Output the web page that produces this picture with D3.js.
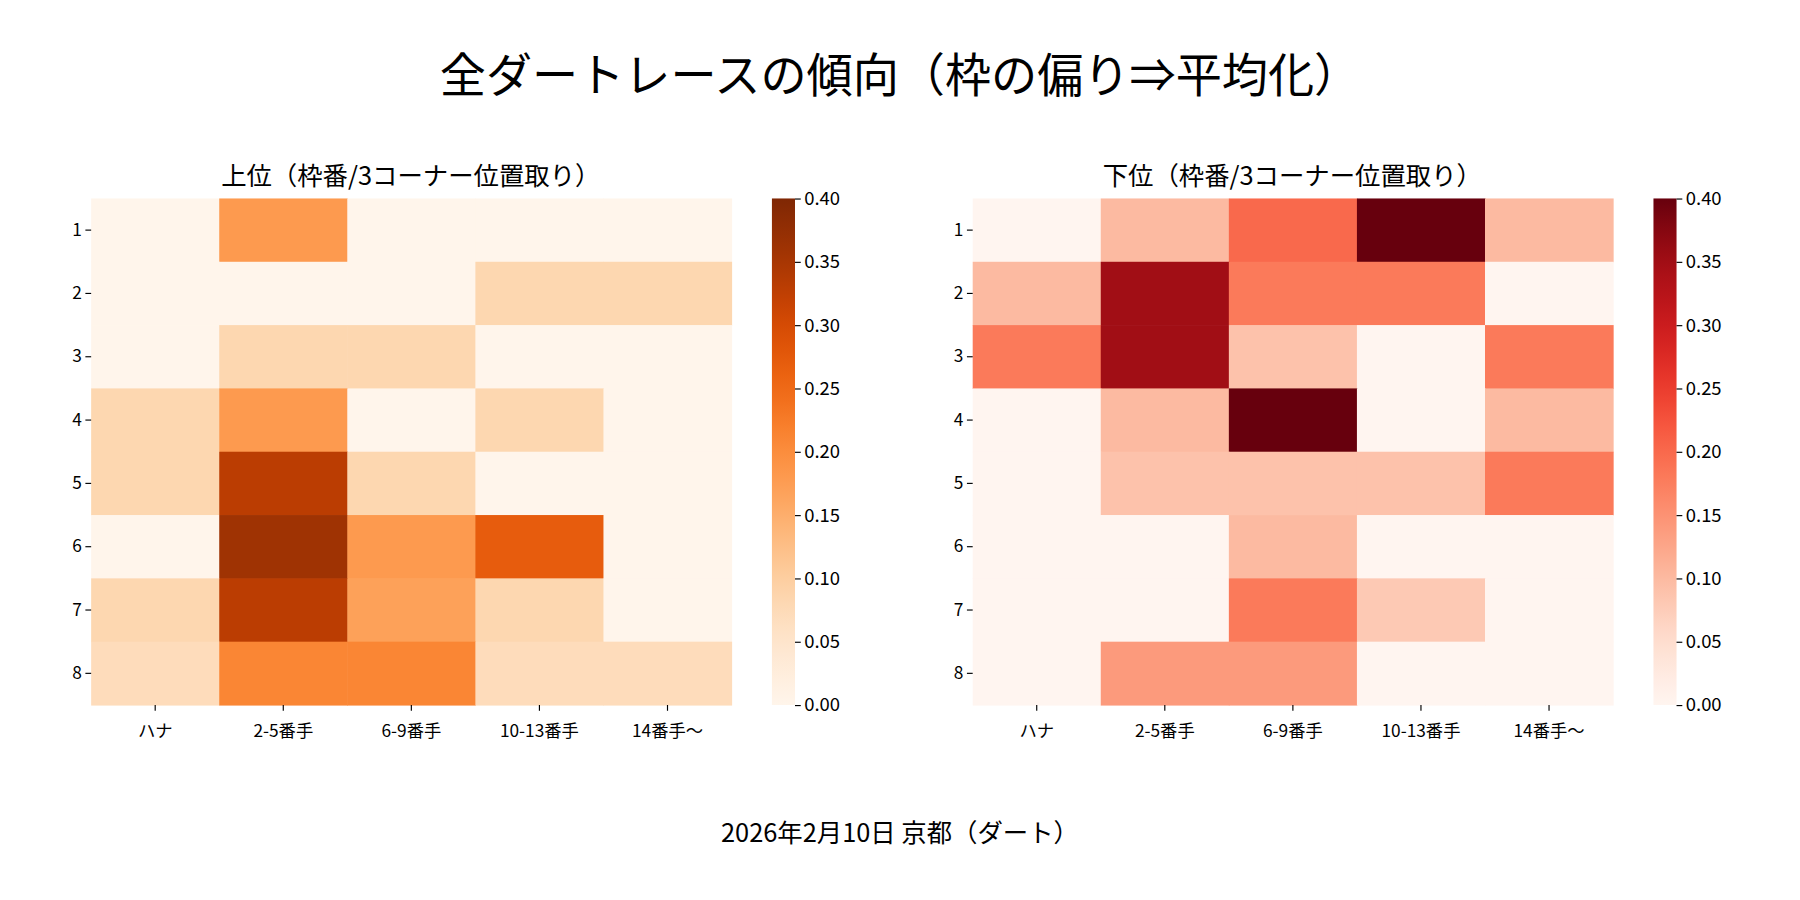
<!DOCTYPE html>
<html><head><meta charset="utf-8">
<script src="https://cdn.jsdelivr.net/npm/d3@7"></script>
<style>body{margin:0;background:#fff}text{font-family:"Noto Sans CJK JP","Noto Sans",sans-serif}</style>
</head><body>
<svg id="chart" width="1800" height="900" viewBox="0 0 1560 780"></svg>
<script>
// rows = 枠番, cols = 3コーナー位置取り
const rows = ["1","2","3","4","5","6","7","8"];
const cols = ["ハナ","2-5番手","6-9番手","10-13番手","14番手〜"];
const topVals = [
  [0, 0.18, 0, 0, 0],
  [0, 0, 0, 0.083, 0.083],
  [0, 0.083, 0.083, 0, 0],
  [0.083, 0.18, 0, 0.083, 0],
  [0.083, 0.33, 0.083, 0, 0],
  [0, 0.36, 0.18, 0.27, 0],
  [0.083, 0.33, 0.17, 0.083, 0],
  [0.071, 0.21, 0.21, 0.071, 0.071]
];
const bottomVals = [
  [0, 0.1, 0.2, 0.4, 0.1],
  [0.1, 0.35, 0.18, 0.18, 0],
  [0.18, 0.35, 0.09, 0, 0.18],
  [0, 0.1, 0.4, 0, 0.1],
  [0, 0.09, 0.09, 0.09, 0.18],
  [0, 0, 0.1, 0, 0],
  [0, 0, 0.18, 0.08, 0],
  [0, 0.14, 0.14, 0, 0]
];
const cbTicks = [0, 0.05, 0.1, 0.15, 0.2, 0.25, 0.3, 0.35, 0.4];

const svg = d3.select("#chart");
svg.append("text").attr("x", 780).attr("y", 80).attr("text-anchor", "middle")
  .attr("font-size", 40).text("全ダートレースの傾向（枠の偏り⇒平均化）");
svg.append("text").attr("x", 780).attr("y", 730).attr("text-anchor", "middle")
  .attr("font-size", 22).text("2026年2月10日 京都（ダート）");

function heat(x0, title, vals, interp) {
  const g = svg.append("g");
  const x = d3.scaleBand().domain(cols).range([x0, x0 + 555]);
  const y = d3.scaleBand().domain(rows).range([172, 611]);
  const color = d3.scaleSequential(interp).domain([0, 0.4]);
  g.append("text").attr("x", x0 + 277).attr("y", 160).attr("text-anchor", "middle")
    .attr("font-size", 22).text(title);
  vals.forEach((r, i) => r.forEach((v, j) => {
    g.append("rect").attr("x", x(cols[j])).attr("y", y(rows[i]))
      .attr("width", x.bandwidth() + 0.5).attr("height", y.bandwidth() + 0.5)
      .attr("fill", color(v));
  }));
  g.append("g").attr("transform", "translate(0,611)")
    .call(d3.axisBottom(x).tickSize(5)).call(a => a.select(".domain").remove())
    .selectAll("text").attr("font-size", 15).attr("dy", "1.3em");
  g.append("g").attr("transform", `translate(${x0},0)`)
    .call(d3.axisLeft(y).tickSize(5)).call(a => a.select(".domain").remove())
    .selectAll("text").attr("font-size", 15);
  // colorbar
  const cx = x0 + 590, cw = 20;
  const cy = d3.scaleLinear().domain([0, 0.4]).range([611, 172]);
  const id = "grad" + x0;
  const grad = svg.append("defs").append("linearGradient").attr("id", id)
    .attr("x1", 0).attr("y1", 1).attr("x2", 0).attr("y2", 0);
  d3.range(0, 1.01, 0.05).forEach(t => grad.append("stop")
    .attr("offset", t).attr("stop-color", interp(t)));
  g.append("rect").attr("x", cx).attr("y", 172).attr("width", cw).attr("height", 439)
    .attr("fill", `url(#${id})`);
  g.append("g").attr("transform", `translate(${cx + cw},0)`)
    .call(d3.axisRight(cy).tickValues(cbTicks).tickFormat(d3.format(".2f")).tickSize(5))
    .call(a => a.select(".domain").remove())
    .selectAll("text").attr("font-size", 16);
}
heat(79, "上位（枠番/3コーナー位置取り）", topVals, d3.interpolateOranges);
heat(843, "下位（枠番/3コーナー位置取り）", bottomVals, d3.interpolateReds);
</script>
</body></html>
